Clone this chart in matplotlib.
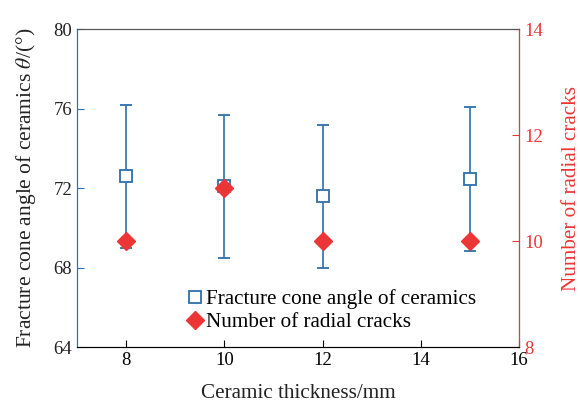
import matplotlib.pyplot as plt
from matplotlib.lines import Line2D

plt.rcParams['font.family'] = ['Liberation Serif', 'DejaVu Serif']
plt.rcParams['mathtext.fontset'] = 'stix'

# data
thickness = [8, 10, 12, 15]
cone_angle = [72.6, 72.1, 71.6, 72.45]
cone_err = [3.6, 3.6, 3.6, 3.62]
radial_cracks = [10, 11, 10, 10]

blue = '#2f6eab'
red = '#ec3535'
fs = 13.5   # tick labels
lfs = 15.2  # axis labels and legend

fig, ax = plt.subplots(figsize=(5.8, 4.05), dpi=100)
fig.subplots_adjust(left=0.133, right=0.895, top=0.928, bottom=0.143)

ax.errorbar(thickness, cone_angle, yerr=cone_err, fmt='s', color=blue,
            mfc='white', mec=blue, ms=8.5, mew=1.3, elinewidth=1.2,
            capsize=4.5, capthick=1.2, zorder=3)
ax.set_xlim(7, 16)
ax.set_ylim(64, 80)
ax.set_xticks([8, 10, 12, 14, 16])
ax.set_yticks([64, 68, 72, 76, 80])
ax.tick_params(direction='in', labelsize=fs, length=5)
ax.tick_params(axis='y', colors=blue, labelcolor='#222222')
ax.spines['left'].set_color(blue)
ax.spines['top'].set_color('#555555')
ax.spines['bottom'].set_color('#333333')
ax.set_xlabel('Ceramic thickness/mm', fontsize=lfs, color='#222222', labelpad=11)
ax.set_ylabel(r'Fracture cone angle of ceramics $\theta$/(°)', fontsize=15.5,
              color='#222222', labelpad=11)

ax2 = ax.twinx()
ax2.plot(thickness, radial_cracks, 'D', color=red, ms=9.5, zorder=4)
ax2.set_ylim(8, 14)
ax2.set_yticks([8, 10, 12, 14])
ax2.tick_params(direction='in', labelsize=fs, length=5, colors=red)
ax2.spines['right'].set_color(red)
ax2.spines['left'].set_color(blue)
ax2.spines['top'].set_color('#555555')
ax2.set_ylabel('Number of radial cracks', fontsize=lfs, color=red, labelpad=14)

handles = [
    Line2D([], [], marker='s', ls='none', mfc='white', mec=blue, ms=8, mew=1.3),
    Line2D([], [], marker='D', ls='none', color=red, ms=9.5),
]
ax2.legend(handles, ['Fracture cone angle of ceramics', 'Number of radial cracks'],
           loc='lower left', bbox_to_anchor=(0.209, 0.0), frameon=False,
           fontsize=lfs, handletextpad=0.05, handlelength=1.0,
           labelspacing=0.15, borderpad=0.2)

fig.savefig('out.png')
